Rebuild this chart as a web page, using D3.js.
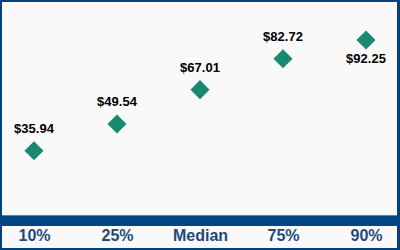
<!DOCTYPE html>
<html lang="en">
<head>
    <meta charset="UTF-8">
    <title>Percentile diamonds</title>
    <script src="https://d3js.org/d3.v7.min.js"></script>
    <style>
        body { margin: 0; }
        svg { display: block; }
    </style>
</head>
<body>
<svg width="400" height="250"></svg>
<script>
    // data
    const categories = ["10%", "25%", "Median", "75%", "90%"];
    const values = [35.94, 49.54, 67.01, 82.72, 92.25];
    const labelBelow = [false, false, false, false, true];

    let svg = d3.select("svg");
    let width = 400, height = 250;

    // background + frame
    svg.append("rect")
        .attr("x", 0).attr("y", 0)
        .attr("width", width).attr("height", height)
        .attr("fill", "#004282");
    svg.append("rect")
        .attr("x", 2).attr("y", 2)
        .attr("width", width - 5).attr("height", height - 4)
        .attr("fill", "#f9f9f9");

    // scales
    let x = d3.scalePoint().domain(categories).range([34, 366]);
    let y = d3.scaleLinear().domain([0, 100]).range([221.4, 24.8]);

    // the thick blue axis band
    svg.append("rect")
        .attr("x", 2).attr("y", 215)
        .attr("width", width - 5).attr("height", 11)
        .attr("fill", "#004682");
    svg.append("line")
        .attr("x1", 2).attr("x2", width - 3)
        .attr("y1", 215.5).attr("y2", 215.5)
        .attr("stroke", "#5d80a8");

    // category labels
    let xAxis = svg.append("g")
        .attr("transform", "translate(0,241)")
        .call(d3.axisBottom(x).tickSize(0).tickPadding(0));
    xAxis.select(".domain").remove();
    xAxis.selectAll("text")
        .attr("dy", 0)
        .attr("font-family", "Liberation Sans, Arial, sans-serif")
        .attr("font-weight", "bold")
        .attr("font-size", 16)
        .attr("fill", "#1f4a7c");

    // diamonds
    let pts = categories.map((c, i) => ({cat: c, v: values[i], below: labelBelow[i]}));
    let diamond = d3.symbol().type(d3.symbolSquare).size(13.5 * 13.5);

    svg.append("g").selectAll("path")
        .data(pts)
        .enter()
        .append("path")
        .attr("d", diamond)
        .attr("transform", d => `translate(${x(d.cat)},${y(d.v)}) rotate(45)`)
        .attr("fill", "#178a70");

    // value labels
    svg.append("g").selectAll("text")
        .data(pts)
        .enter()
        .append("text")
        .attr("x", d => x(d.cat))
        .attr("y", d => d.below ? y(d.v) + 23 : y(d.v) - 18)
        .attr("text-anchor", "middle")
        .attr("font-family", "Liberation Sans, Arial, sans-serif")
        .attr("font-weight", "bold")
        .attr("font-size", 13)
        .attr("fill", "#000")
        .text(d => "$" + d.v.toFixed(2));
</script>
</body>
</html>
